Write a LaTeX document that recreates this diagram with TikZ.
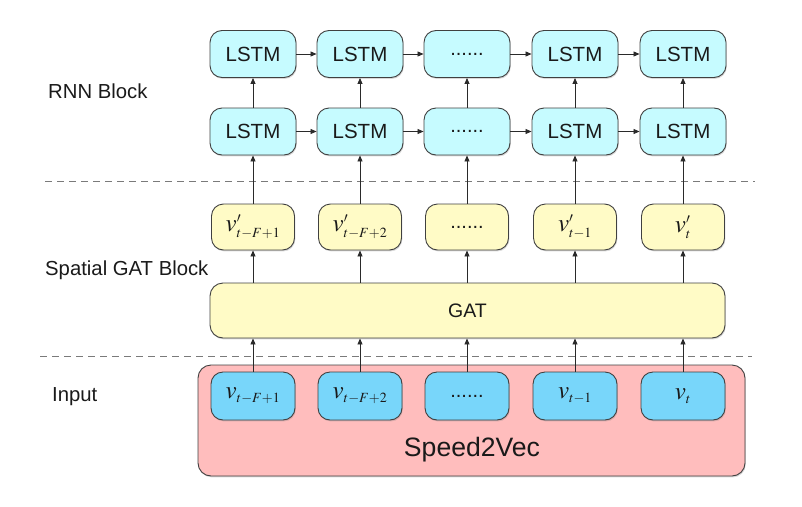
\documentclass[tikz,border=0pt]{standalone}
\usepackage{mathptmx}
\usepackage[no-math]{fontspec}
\setmainfont{Liberation Sans}
\DeclareMathSizes{25}{25}{14}{10}
\usetikzlibrary{arrows.meta,shadows}
\definecolor{lstmfill}{HTML}{C6FBFF}
\definecolor{yelfill}{HTML}{FFFBC6}
\definecolor{pinkfill}{HTML}{FFBDBD}
\definecolor{bluefill}{HTML}{78D6FA}
\definecolor{boxline}{HTML}{404040}
\definecolor{linec}{HTML}{2A2A2A}
\definecolor{dashc}{HTML}{7A7A7A}
\definecolor{txtc}{HTML}{1A1A1A}
\begin{document}
\begin{tikzpicture}[x=1pt,y=-1pt,
  box/.style={draw=boxline, line width=0.9pt, rounded corners=12pt, inner sep=0pt, text=txtc,
    drop shadow={shadow xshift=0.8pt, shadow yshift=-1.4pt, opacity=0.3}},
  lstm/.style={box, fill=lstmfill, minimum width=86pt, minimum height=47pt, font=\fontsize{20.5}{24}\selectfont},
  ybox/.style={box, fill=yelfill, minimum width=83pt, minimum height=46pt, font=\fontsize{25}{28}\selectfont},
  bbox/.style={box, fill=bluefill, minimum width=84pt, minimum height=48pt, font=\fontsize{25}{28}\selectfont},
  lab/.style={anchor=west, inner sep=0pt, text=txtc, font=\fontsize{20.3}{24}\selectfont},
  arr/.style={draw=linec, line width=0.8pt, -{Triangle[length=6pt,width=5pt]}},
  sep/.style={draw=dashc, line width=0.8pt, dash pattern=on 7pt off 5pt}
]
\useasboundingbox (0,0) rectangle (802,506);

% labels
\node[lab] (lrnn) at (48,91) {RNN Block};
\node[lab] (lgat) at (45,270) {Spatial GAT Block};
\node[lab] (linp) at (52,397) {Input};

% separators
\draw[sep] (45,181) -- (755,181);
\draw[sep] (40,356) -- (752,356);

% pink Speed2Vec box
\node[box, fill=pinkfill, rounded corners=13pt, minimum width=547pt, minimum height=111pt] (s2v) at (471.5,420.5) {};
\node[text=txtc, font=\fontsize{26.6}{30}\selectfont] (s2vt) at (472,450) {Speed2Vec};

% GAT box
\node[box, fill=yelfill, rounded corners=13pt, minimum width=515pt, minimum height=55pt, font=\fontsize{19.5}{22}\selectfont] (gat) at (467.5,310.5) {GAT};

% columns
\foreach \i/\x/\bl/\yl in {1/253/{$v_{t-F+1}$}/{$v'_{t-F+1}$},
                          2/360/{$v_{t-F+2}$}/{$v'_{t-F+2}$},
                          3/467/{\fontsize{20}{22}\selectfont ......}/{\fontsize{20}{22}\selectfont ......},
                          4/575/{$v_{t-1}$}/{$v'_{t-1}$},
                          5/683/{$v_{t}$}/{$v'_{t}$}} {
  \node[bbox] (b\i) at (\x,396) {\bl};
  \node[ybox] (y\i) at (\x,227) {\yl};
  \node[lstm] (m\i) at (\x,131.5) {\ifnum\i=3 {\fontsize{20}{22}\selectfont ......}\else LSTM\fi};
  \node[lstm] (t\i) at (\x,54) {\ifnum\i=3 {\fontsize{20}{22}\selectfont ......}\else LSTM\fi};
}

% vertical arrows
\foreach \i in {1,...,5} {
  \draw[arr] (b\i.north) -- (b\i.north |- gat.south);
  \draw[arr] (gat.north -| y\i) -- (y\i.south);
  \draw[arr] (y\i.north) -- (m\i.south);
  \draw[arr] (m\i.north) -- (t\i.south);
}

% horizontal arrows
\foreach \i/\j in {1/2,2/3,3/4,4/5} {
  \draw[arr] (m\i.east) -- (m\j.west);
  \draw[arr] (t\i.east) -- (t\j.west);
}
\end{tikzpicture}
\end{document}
